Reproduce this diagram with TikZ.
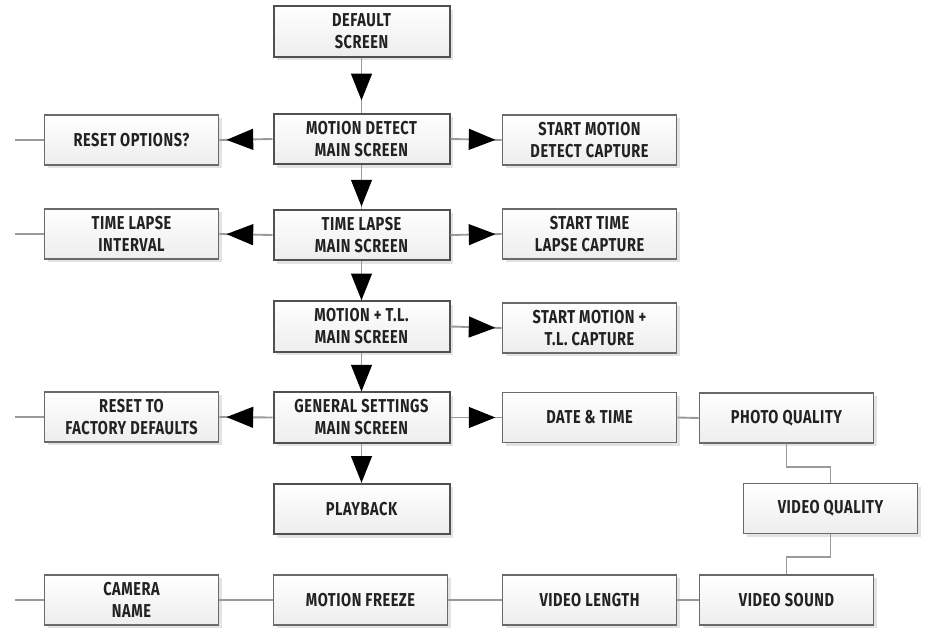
\documentclass[tikz,border=0pt]{standalone}
\usepackage{fontspec}
\setmainfont{Fira Sans}[FakeStretch=0.78]
\usetikzlibrary{shapes.geometric,shadows}
\definecolor{linegray}{HTML}{9A9A9A}
\definecolor{darkedge}{HTML}{505050}
\definecolor{boxedge}{HTML}{6A6A6A}
\definecolor{textgray}{HTML}{222222}
\begin{document}
\begin{tikzpicture}[x=0.75pt,y=-0.75pt,
  base/.style={rectangle, draw=boxedge, top color=white, bottom color=gray!14,
    drop shadow={shadow xshift=2.5pt,shadow yshift=-2.5pt,fill=gray!22,opacity=1},
    align=center, font=\bfseries\fontsize{14}{16.5}\selectfont\addfontfeature{LetterSpace=3},
    text=textgray, inner sep=0pt},
  mainbox/.style={base, line width=1.5pt, draw=darkedge, minimum width=132pt, minimum height=38pt},
  sidebox/.style={base, line width=0.9pt, minimum width=131pt, minimum height=37.5pt},
  conn/.style={draw=linegray, line width=1.4pt},
  tri/.style={isosceles triangle, isosceles triangle stretches, fill=black, draw=none,
    inner sep=0pt, minimum width=16pt, minimum height=20pt, sloped, allow upside down, anchor=center}
]
\useasboundingbox (0,0) rectangle (925,628);

% centre column
\node[mainbox] (ds)  at (361.5,31.5) {DEFAULT\\SCREEN};
\node[mainbox] (md)  at (361.5,139)  {MOTION DETECT\\MAIN SCREEN};
\node[mainbox] (tl)  at (361.5,235)  {TIME LAPSE\\MAIN SCREEN};
\node[mainbox] (mtl) at (361.5,326.5) {MOTION + T.L.\\MAIN SCREEN};
\node[mainbox] (gs)  at (361.5,417.5) {GENERAL SETTINGS\\MAIN SCREEN};
\node[mainbox] (pb)  at (361.5,509)  {PLAYBACK};

% left column
\node[sidebox] (ro)  at (131.5,140) {RESET OPTIONS?};
\node[sidebox] (tli) at (131.5,234) {TIME LAPSE\\INTERVAL};
\node[sidebox] (rf)  at (131.5,417) {RESET TO\\FACTORY DEFAULTS};
\node[sidebox] (cn)  at (131.5,600) {CAMERA\\NAME};

% right column
\node[sidebox] (smd) at (589.5,140) {START MOTION\\DETECT CAPTURE};
\node[sidebox] (stl) at (589.5,234) {START TIME\\LAPSE CAPTURE};
\node[sidebox] (smt) at (589.5,328) {START MOTION +\\T.L. CAPTURE};
\node[sidebox] (dt)  at (589.5,417.5) {DATE \& TIME};
\node[sidebox] (vl)  at (589.5,600) {VIDEO LENGTH};
\node[sidebox] (mf)  at (360.5,600) {MOTION FREEZE};

% far right
\node[sidebox] (pq) at (786.5,418) {PHOTO QUALITY};
\node[sidebox] (vq) at (830.5,508.5) {VIDEO QUALITY};
\node[sidebox] (vs) at (786.5,600) {VIDEO SOUND};

% free ends
\coordinate (e1) at (15,140);
\coordinate (e2) at (15,234);
\coordinate (e3) at (15,417);
\coordinate (e4) at (15,600);

% arrowed connectors
\draw[conn] (ds.south) -- (md.north) node[tri,pos=0.42]{};
\draw[conn] (md.west) -- (ro.east) node[tri,midway]{};
\draw[conn] (md.east) -- (smd.west) node[tri,midway]{};
\draw[conn] (md.south) -- (tl.north) node[tri,midway]{};
\draw[conn] (tl.west) -- (tli.east) node[tri,midway]{};
\draw[conn] (tl.east) -- (stl.west) node[tri,midway]{};
\draw[conn] (tl.south) -- (mtl.north) node[tri,midway]{};
\draw[conn] (mtl.east) -- (smt.west) node[tri,midway]{};
\draw[conn] (mtl.south) -- (gs.north) node[tri,midway]{};
\draw[conn] (gs.west) -- (rf.east) node[tri,midway]{};
\draw[conn] (gs.east) -- (dt.west) node[tri,midway]{};
\draw[conn] (gs.south) -- (pb.north) node[tri,midway]{};

% plain connectors
\draw[conn] (ro.west) -- (e1);
\draw[conn] (tli.west) -- (e2);
\draw[conn] (rf.west) -- (e3);
\draw[conn] (cn.west) -- (e4);
\draw[conn] (dt.east) -- (pq.west);
\draw[conn] (pq.south) -- ++(0,23) -| (vq.north);
\draw[conn] (vq.south) -- ++(0,23) -| (vs.north);
\draw[conn] (vs.west) -- (vl.east);
\draw[conn] (vl.west) -- (mf.east);
\draw[conn] (mf.west) -- (cn.east);
\end{tikzpicture}
\end{document}
